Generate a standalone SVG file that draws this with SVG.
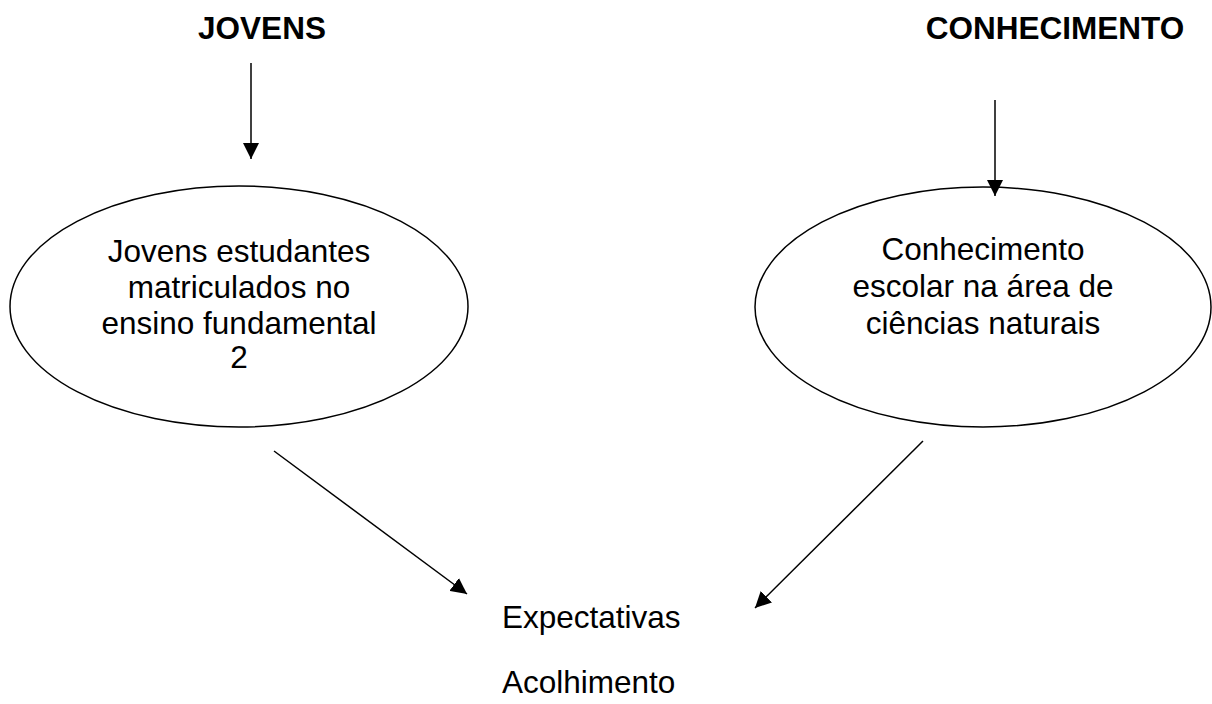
<svg xmlns="http://www.w3.org/2000/svg" width="1212" height="704" viewBox="0 0 1212 704">
  <style>
    text { font-family: "Liberation Sans", Arial, sans-serif; font-size: 31.5px; fill: #000; }
    .h { font-weight: bold; text-anchor: middle; }
    .c { text-anchor: middle; }
    .node { fill: #fff; stroke: #000; stroke-width: 1.5; }
    .conn { stroke: #000; stroke-width: 1.5; fill: none; marker-end: url(#arr); }
  </style>
  <defs>
    <marker id="arr" markerUnits="userSpaceOnUse" markerWidth="16" markerHeight="16" refX="16" refY="8" orient="auto">
      <path d="M0,0 L16,8 L0,16 z" fill="#000"/>
    </marker>
  </defs>
  <rect width="1212" height="704" fill="#fff"/>

  <g id="title-jovens">
    <text class="h" x="262" y="39">JOVENS</text>
  </g>
  <g id="title-conhecimento">
    <text class="h" x="1055" y="39">CONHECIMENTO</text>
  </g>

  <g id="node-jovens">
    <ellipse class="node" cx="239" cy="306.5" rx="229" ry="120.5"/>
    <text class="c" x="239" y="262">Jovens estudantes</text>
    <text class="c" x="239" y="298">matriculados no</text>
    <text class="c" x="239" y="334">ensino fundamental</text>
    <text class="c" x="239" y="368">2</text>
  </g>

  <g id="node-conhecimento">
    <ellipse class="node" cx="983" cy="307" rx="228" ry="120"/>
    <text class="c" x="983" y="260">Conhecimento</text>
    <text class="c" x="983" y="297">escolar na área de</text>
    <text class="c" x="983" y="334">ciências naturais</text>
  </g>

  <g id="node-resultado">
    <text x="502" y="628">Expectativas</text>
    <text x="502" y="693">Acolhimento</text>
  </g>

  <g id="connectors">
    <line class="conn" x1="251" y1="63" x2="251" y2="159"/>
    <line class="conn" x1="995" y1="100" x2="995" y2="196"/>
    <line class="conn" x1="274" y1="451" x2="467" y2="594"/>
    <line class="conn" x1="923" y1="441" x2="755" y2="608"/>
  </g>
</svg>
